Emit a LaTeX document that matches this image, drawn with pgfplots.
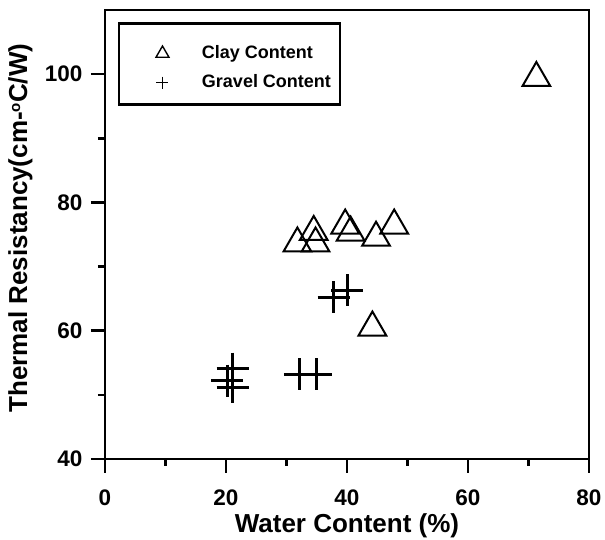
\documentclass[border=0pt]{standalone}
\usepackage{fontspec}
\setmainfont{Liberation Sans}
\usepackage{pgfplots}
\pgfplotsset{compat=1.18}
\usetikzlibrary{calc}
\begin{document}
\begin{tikzpicture}
\begin{axis}[
  scale only axis,
  width=484pt, height=449pt,
  xmin=0, xmax=80, ymin=40, ymax=110,
  xtick={0,20,40,60,80}, ytick={40,60,80,100},
  minor xtick={10,30,50,70}, minor ytick={50,70,90},
  tick align=outside,
  xtick pos=bottom, ytick pos=left,
  major tick length=14pt, minor tick length=7pt,
  every tick/.style={black, line width=2.6pt},
  axis line style={line width=2.8pt},
  /pgf/number format/assume math mode=true,
  tick label style={font=\fontsize{22.5}{27}\selectfont\bfseries},
  xticklabel style={inner sep=1pt, yshift=-16pt},
  yticklabel style={xshift=-5pt},
  xlabel={Water Content (\%)},
  ylabel={Thermal Resistancy(cm-\raisebox{0.5ex}{\fontsize{15}{17}\selectfont o}C/W)},
  label style={font=\fontsize{26}{30}\selectfont\bfseries, inner sep=1pt},
  xlabel style={at={(rel axis cs:0.5,-0.1648)}, anchor=base},
  ylabel style={at={(rel axis cs:-0.161,0.514)}, anchor=base},
  legend style={at={(rel axis cs:0.026,0.973)}, anchor=north west,
    draw=black, line width=2.8pt, inner xsep=7pt, inner ysep=13pt,
    font=\fontsize{18}{21}\selectfont\bfseries,
    nodes={inner sep=2pt, text height=20pt, text depth=2pt}, row sep=3pt,
    /tikz/every odd column/.append style={column sep=31pt}},
  legend cell align=left,
  clip=false,
]
\addplot[only marks, mark=triangle, mark size=16pt, line width=2pt,
  legend image code/.code={\path (0pt,-4pt); \draw[mark size=7.5pt, line width=1.4pt] plot coordinates {(35pt,-4pt)};}]
  coordinates {
  (31.8,73.6) (34.5,75.4) (34.8,73.6) (39.7,76.4) (40.6,75.3)
  (44.8,74.5) (47.8,76.4) (44.2,60.5) (71.3,99.4)
  };
\addlegendentry{Clay Content}
\addplot[only marks, mark=+, mark size=16pt, line width=3pt,
  legend image code/.code={\path (0pt,-4pt); \draw[mark size=6pt, line width=1.6pt] plot coordinates {(35pt,-4pt)};}]
  coordinates {
  (21.1,54.1) (20.2,52.2) (21.1,51.2) (32.2,53.2) (34.9,53.2)
  (37.8,65.2) (40.0,66.3)
  };
\addlegendentry{Gravel Content}
\end{axis}
\pgfresetboundingbox
\path ($(current axis.south west)+(-105pt,-81pt)$) rectangle ($(current axis.north east)+(16pt,10pt)$);
\end{tikzpicture}
\end{document}
